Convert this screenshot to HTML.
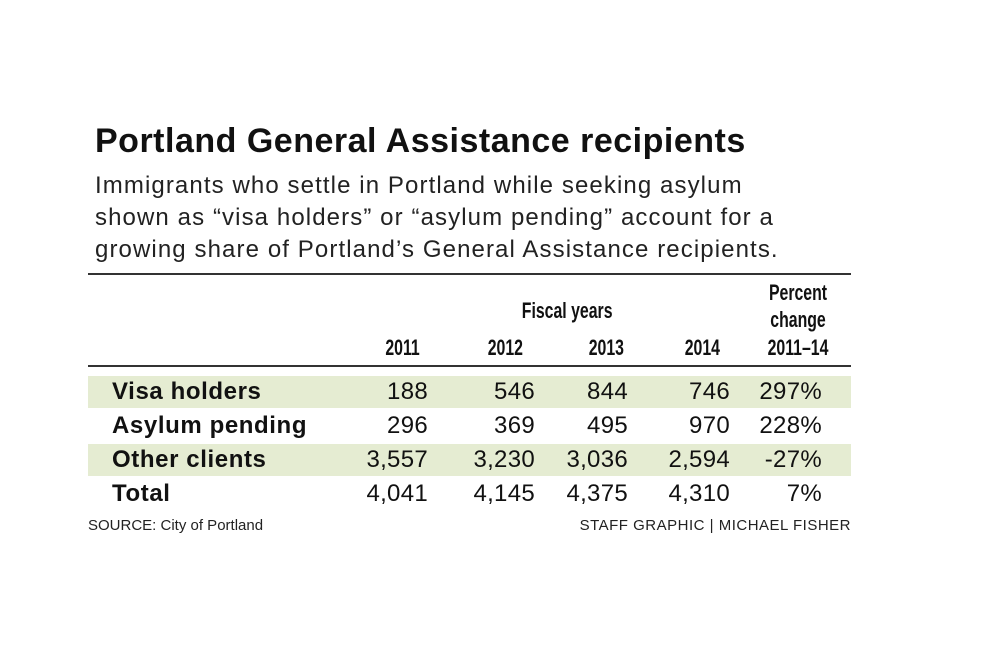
<!DOCTYPE html>
<html><head><meta charset="utf-8"><style>
body{margin:0;width:1000px;height:647px;background:#fff;font-family:"Liberation Sans",sans-serif;color:#111;position:relative;overflow:hidden}
.a{position:absolute;white-space:nowrap}
.t{left:95px;top:122px;font-size:34px;font-weight:bold;letter-spacing:0.5px}
.s{left:95px;font-size:24px;color:#222;letter-spacing:1.1px}
.rule{position:absolute;left:88px;width:763px;height:2px;background:#333}
.band{position:absolute;left:88px;width:763px;height:32px;background:#e5ecd2}
.h{font-weight:bold;font-size:22px;transform:scaleX(0.72);transform-origin:right center}
.hc{font-weight:bold;font-size:22px;transform:scaleX(0.72);transform-origin:center center;text-align:center;width:120px}
.lab{left:112px;font-weight:bold;font-size:24px;letter-spacing:0.6px}
.n{font-size:24px;text-align:right;width:120px;letter-spacing:0.3px}
.f{font-size:15px;color:#222}
</style></head><body>
<div class="a t">Portland General Assistance recipients</div>
<div class="a s" style="top:172px">Immigrants who settle in Portland while seeking asylum</div>
<div class="a s" style="top:204px">shown as “visa holders” or “asylum pending” account for a</div>
<div class="a s" style="top:236px">growing share of Portland’s General Assistance recipients.</div>
<div class="rule" style="top:273px"></div>
<div class="a hc" style="left:505px;top:298px">Fiscal years</div>
<div class="a hc" style="left:738px;top:280px">Percent</div>
<div class="a hc" style="left:738px;top:307px">change</div>
<div class="a hc" style="left:738px;top:335px">2011–14</div>
<div class="a h" style="right:580px;top:335px">2011</div>
<div class="a h" style="right:477px;top:335px">2012</div>
<div class="a h" style="right:376px;top:335px">2013</div>
<div class="a h" style="right:280px;top:335px">2014</div>
<div class="rule" style="top:365px"></div>
<div class="band" style="top:376px"></div>
<div class="band" style="top:444px"></div>
<div class="a lab" style="top:378px">Visa holders</div>
<div class="a lab" style="top:412px">Asylum pending</div>
<div class="a lab" style="top:446px">Other clients</div>
<div class="a lab" style="top:480px">Total</div>
<div class="a n" style="left:308px;top:378px">188</div><div class="a n" style="left:415px;top:378px">546</div><div class="a n" style="left:508px;top:378px">844</div><div class="a n" style="left:610px;top:378px">746</div><div class="a n" style="left:702px;top:378px">297%</div>
<div class="a n" style="left:308px;top:412px">296</div><div class="a n" style="left:415px;top:412px">369</div><div class="a n" style="left:508px;top:412px">495</div><div class="a n" style="left:610px;top:412px">970</div><div class="a n" style="left:702px;top:412px">228%</div>
<div class="a n" style="left:308px;top:446px">3,557</div><div class="a n" style="left:415px;top:446px">3,230</div><div class="a n" style="left:508px;top:446px">3,036</div><div class="a n" style="left:610px;top:446px">2,594</div><div class="a n" style="left:702px;top:446px">-27%</div>
<div class="a n" style="left:308px;top:480px">4,041</div><div class="a n" style="left:415px;top:480px">4,145</div><div class="a n" style="left:508px;top:480px">4,375</div><div class="a n" style="left:610px;top:480px">4,310</div><div class="a n" style="left:702px;top:480px">7%</div>
<div class="a f" style="left:88px;top:517px">SOURCE: City of Portland</div>
<div class="a f" style="right:149px;top:517px;letter-spacing:0.5px">STAFF GRAPHIC | MICHAEL FISHER</div>
</body></html>
